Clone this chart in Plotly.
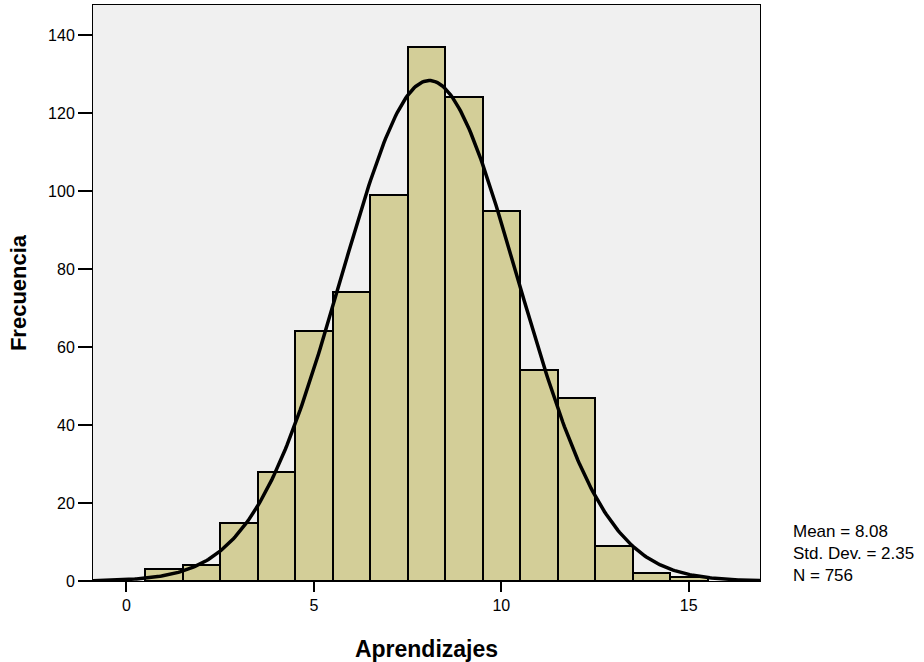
import numpy as np
import plotly.graph_objects as go

# Data
bin_centers = [1, 2, 3, 4, 5, 6, 7, 8, 9, 10, 11, 12, 13, 14, 15]
frequencies = [3, 4, 15, 28, 64, 74, 99, 137, 124, 95, 54, 47, 9, 2, 1]
mean_val = 8.08
std_val = 2.35
n_val = 756
bin_width = 1.0
x_ticks = [0, 5, 10, 15]
y_ticks = [0, 20, 40, 60, 80, 100, 120, 140]

x_range = [-0.89, 16.9]
y_range = [0, 147.7]

# Fitted normal curve (from displayed mean / sd / N)
xc = np.linspace(x_range[0], x_range[1], 400)
yc = n_val * bin_width / (std_val * np.sqrt(2 * np.pi)) * np.exp(-0.5 * ((xc - mean_val) / std_val) ** 2)

fig = go.Figure()
fig.add_trace(go.Bar(
    x=bin_centers, y=frequencies, width=bin_width,
    marker=dict(color="#d3ce98", line=dict(color="black", width=2)),
    hoverinfo="x+y", showlegend=False,
))
fig.add_trace(go.Scatter(
    x=xc, y=yc, mode="lines",
    line=dict(color="black", width=3.5), showlegend=False, hoverinfo="skip",
))

font_family = "Liberation Sans, Arial, sans-serif"
fig.update_layout(
    width=924, height=662,
    margin=dict(l=93, r=164, t=5, b=81),
    paper_bgcolor="white", plot_bgcolor="#f0f0f0",
    font=dict(family=font_family, size=16, color="black"),
    bargap=0,
    xaxis=dict(
        range=x_range, tickvals=x_ticks, ticks="outside", ticklen=10, tickwidth=1.5,
        tickcolor="black", showline=True, linecolor="black", linewidth=1, mirror=True,
        showgrid=False, zeroline=False, automargin=False,
        title=dict(text="<b>Aprendizajes</b>", font=dict(size=23, family=font_family), standoff=28),
        tickfont=dict(size=16),
    ),
    yaxis=dict(
        range=y_range, tickvals=y_ticks, ticks="outside", ticklen=14, tickwidth=1.5,
        tickcolor="black", showline=True, linecolor="black", linewidth=1, mirror=True,
        showgrid=False, zeroline=False, automargin=False,
        title=dict(text="<b>Frecuencia</b>", font=dict(size=22, family=font_family), standoff=15),
        tickfont=dict(size=16),
    ),
    annotations=[dict(
        x=1, xref="paper", xanchor="left", xshift=31,
        y=0, yref="paper", yanchor="bottom", yshift=-6,
        text=f"Mean = {mean_val:.2f}<br>Std. Dev. = {std_val:.2f}<br>N = {n_val}",
        showarrow=False, align="left", font=dict(size=17, family=font_family),
    )],
)

fig.write_html(
    "out.html",
    config={"displayModeBar": False},
    post_script="document.body.style.margin='0';document.body.style.padding='0';",
)
